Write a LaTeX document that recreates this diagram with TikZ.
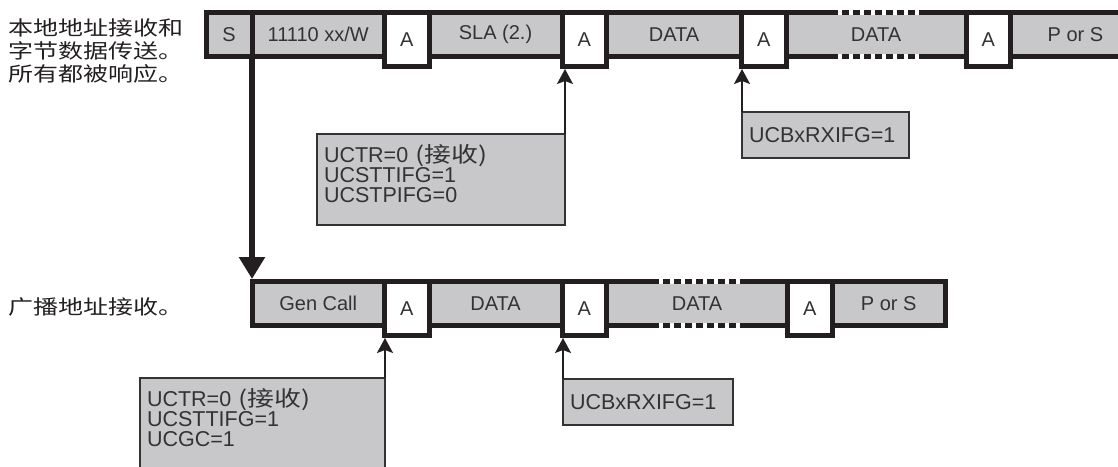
\documentclass[tikz,border=0pt]{standalone}
\usepackage{fontspec}
\setmainfont{Liberation Sans}
\newfontfamily\cjk[FakeStretch=1.25]{Noto Sans CJK SC}
\usetikzlibrary{arrows.meta,positioning}
\definecolor{cellgray}{RGB}{200,200,202}
\definecolor{ink}{RGB}{35,31,32}

\begin{document}
\begin{tikzpicture}[x=1pt, y=-1pt,
  cell/.style={draw=ink, line width=5pt, fill=cellgray, inner sep=0pt, outer sep=0pt, anchor=north west, minimum height=43.5pt, font=\fontsize{20}{22}\selectfont, text=black!80},
  ack/.style={cell, fill=white, minimum width=44.5pt, minimum height=54pt},
  flag/.style={draw=black!80, line width=1.5pt, fill=cellgray, inner xsep=7pt, inner ysep=0pt, outer sep=0pt, anchor=north west, align=left, font=\fontsize{21.5}{20}\selectfont, text=black!80},
  note/.style={anchor=north west, inner sep=0pt, align=left, text=ink, font=\cjk\fontsize{20}{23}\selectfont},
  up/.style={-{Stealth[length=15pt, width=16pt, inset=3pt]}, line width=1.6pt, draw=ink, shorten >=2.5pt},
  dots/.style={line width=5pt, draw=ink, dash pattern=on 7pt off 4pt}]
\useasboundingbox (0,0) rectangle (1118,466);
\clip (0,0) rectangle (1118,466);
% notes on the left
\node[note] (n1) at (8,18) {本地地址接收和\\字节数据传送。\\所有都被响应。};
\node[note] (n2) at (8,297) {广播地址接收。};
% own address frame
\node[cell, minimum width=46pt] (s) at (206,12.5) {S};
\node[cell, minimum width=132.5pt] (addr) at (s.north east) {11110 xx/W};
\node[ack] (a1) at (addr.north east) {A};
\node[cell, minimum width=133pt] (sla) at (a1.north east) {SLA (2.)};
\node[ack] (a2) at (sla.north east) {A};
\node[cell, minimum width=135pt] (d1) at (a2.north east) {DATA};
\node[ack] (a3) at (d1.north east) {A};
\node[cell, minimum width=180pt] (d2) at (a3.north east) {DATA};
\node[ack] (a4) at (d2.north east) {A};
\node[cell, minimum width=130pt] (ps1) at (a4.north east) {P or S};
% general call frame
\node[cell, minimum width=132.5pt] (gen) at (252,281.5) {Gen Call};
\node[ack] (b1) at (gen.north east) {A};
\node[cell, minimum width=133pt] (bd1) at (b1.north east) {DATA};
\node[ack] (b2) at (bd1.north east) {A};
\node[cell, minimum width=181pt] (bd2) at (b2.north east) {DATA};
\node[ack] (b3) at (bd2.north east) {A};
\node[cell, minimum width=113.5pt] (ps2) at (b3.north east) {P or S};
% broken borders of the repeated data
\foreach \d in {d2,bd2} {
  \draw[white, line width=5pt] ([xshift=-45pt]\d.north) -- ([xshift=45pt]\d.north);
  \draw[white, line width=5pt] ([xshift=-45pt]\d.south) -- ([xshift=45pt]\d.south);
  \draw[dots] ([xshift=-45pt]\d.north) -- ([xshift=45pt]\d.north);
  \draw[dots] ([xshift=-45pt]\d.south) -- ([xshift=45pt]\d.south);
}
% flag boxes
\node[flag, minimum height=91pt, text width=234pt, text depth=52pt] (f1) at (317,134) {UCTR=0 {\cjk (接收)}\\UCSTTIFG=1\\UCSTPIFG=0};
\node[flag, minimum height=46pt, text width=153pt] (f2) at (742,112) {UCBxRXIFG=1};
\node[flag, minimum height=91pt, text width=231pt, text depth=52pt] (f3) at (140,378) {UCTR=0 {\cjk (接收)}\\UCSTTIFG=1\\UCGC=1};
\node[flag, minimum height=46pt, text width=156pt] (f4) at (563,379) {UCBxRXIFG=1};
% connectors
\draw[line width=5.5pt, draw=ink, -{Triangle[length=22pt, width=25pt]}] (s.south east) -- ([yshift=2.5pt]gen.north west);
\foreach \f/\c/\a in {f1/north east/a2, f2/north west/a3, f3/north east/b1, f4/north west/b2}
  \draw[up] (\f.\c) -- (\f.\c |- \a.south);
\end{tikzpicture}
\end{document}
